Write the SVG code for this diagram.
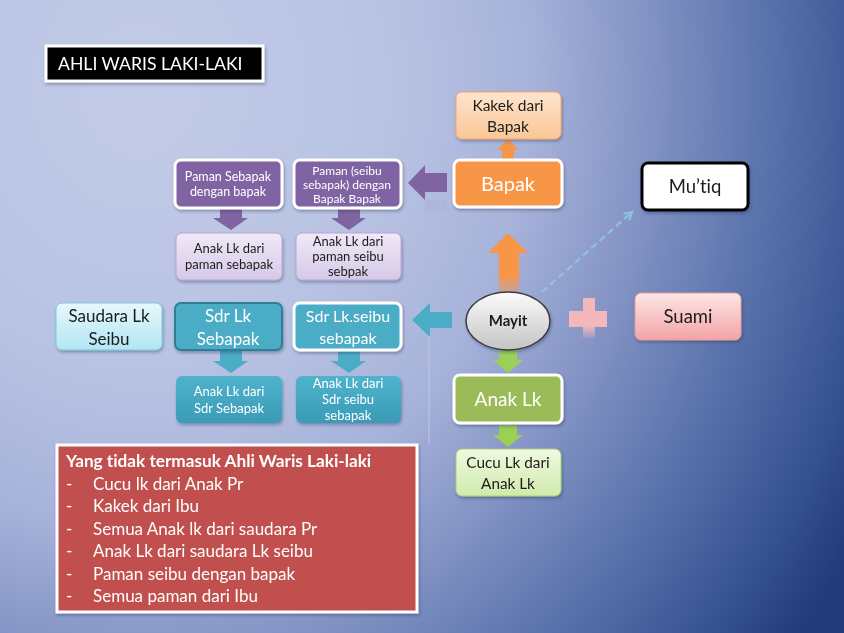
<svg xmlns="http://www.w3.org/2000/svg" width="844" height="633" viewBox="0 0 844 633">
<defs>
<radialGradient id="bg" gradientUnits="userSpaceOnUse" cx="140" cy="90" r="820" gradientTransform="translate(140,90) scale(1,1.12) translate(-140,-90)">
<stop offset="0" stop-color="#c3cbe7"/>
<stop offset="0.3" stop-color="#b8c3e3"/>
<stop offset="0.48" stop-color="#a7b2da"/>
<stop offset="0.62" stop-color="#8393c4"/>
<stop offset="0.78" stop-color="#5670aa"/>
<stop offset="0.92" stop-color="#34508f"/>
<stop offset="1" stop-color="#233b7a"/>
</radialGradient>
<linearGradient id="gPeach" x1="0" y1="0" x2="0" y2="1"><stop offset="0" stop-color="#fde4cf"/><stop offset="1" stop-color="#fbc796"/></linearGradient>
<linearGradient id="gLav" x1="0" y1="0" x2="0" y2="1"><stop offset="0" stop-color="#f0e9f7"/><stop offset="1" stop-color="#d6c9e8"/></linearGradient>
<linearGradient id="gCyan" x1="0" y1="0" x2="0" y2="1"><stop offset="0" stop-color="#e6f8fc"/><stop offset="1" stop-color="#b2e6f3"/></linearGradient>
<linearGradient id="gTeal" x1="0" y1="0" x2="0" y2="1"><stop offset="0" stop-color="#4fb3cc"/><stop offset="1" stop-color="#3a9bb6"/></linearGradient>
<linearGradient id="gGreen" x1="0" y1="0" x2="0" y2="1"><stop offset="0" stop-color="#f0f9e2"/><stop offset="1" stop-color="#d0ebab"/></linearGradient>
<linearGradient id="gPink" x1="0" y1="0" x2="0" y2="1"><stop offset="0" stop-color="#fde6e6"/><stop offset="1" stop-color="#f3a4a6"/></linearGradient>
<linearGradient id="gEll" x1="0" y1="0" x2="0" y2="1"><stop offset="0" stop-color="#fbfbfb"/><stop offset="1" stop-color="#c4c4c4"/></linearGradient>
<linearGradient id="fadeOrange" x1="0" y1="0" x2="0" y2="1"><stop offset="0.7" stop-color="#f79646"/><stop offset="1" stop-color="#f79646" stop-opacity="0.35"/></linearGradient>
<linearGradient id="fadePink" x1="0" y1="0" x2="0" y2="1"><stop offset="0.7" stop-color="#f2b8bc"/><stop offset="1" stop-color="#f2b8bc" stop-opacity="0.2"/></linearGradient>
<filter id="sh" x="-10%" y="-10%" width="125%" height="130%"><feDropShadow dx="1" dy="2" stdDeviation="1.5" flood-color="#1c2850" flood-opacity="0.35"/></filter>
<marker id="ah" viewBox="0 0 10 10" refX="8" refY="5" markerWidth="5" markerHeight="5" orient="auto"><path d="M1,1 L8,5 L1,9" fill="none" stroke="#8cc3e2" stroke-width="2"/></marker>
</defs>
<style>
text{font-family:Lato,"Liberation Sans",sans-serif;text-anchor:middle;font-variant-ligatures:none}
.w{fill:#ffffff}
.d{fill:#1b1b1b}
.box{filter:url(#sh)}
</style>
<rect width="844" height="633" fill="url(#bg)"/>

<g id="title" class="box">
<rect x="46" y="46" width="217" height="35" fill="#000" stroke="#fff" stroke-width="3"/>
<text x="58" y="70" class="w" style="text-anchor:start;font-size:17.6px">AHLI WARIS LAKI-LAKI</text>
</g>

<g id="connectors">
<path d="M508,139 L519,150 L514,150 L514,160 L502,160 L502,150 L497,150 Z" fill="#f79646"/>
<path d="M508,233 L528,253 L519,253 L519,293 L499,293 L499,253 L488,253 Z" fill="url(#fadeOrange)"/>
<path d="M408,183 L425,165 L425,173 L447,173 L447,192 L425,192 L425,200 Z" fill="#8064a2"/>
<path d="M425,200 L447,200 L447,212 L425,212 Z" fill="#8064a2" opacity="0.06"/>
<path d="M220,208 L242,208 L242,218 L248,218 L231,230 L213,218 L220,218 Z" fill="#8064a2"/>
<path d="M338,208 L360,208 L360,218 L366,218 L349,230 L331,218 L338,218 Z" fill="#8064a2"/>
<path d="M412,320 L430,303 L430,312 L452,312 L452,328 L430,328 L430,337 Z" fill="#4bacc6"/>
<line x1="429" y1="336" x2="429" y2="445" stroke="#c6d2ee" stroke-width="1.5" opacity="0.45"/>
<path d="M220,351 L242,351 L242,361 L248,361 L231,373 L213,361 L220,361 Z" fill="#4bacc6"/>
<path d="M338,351 L360,351 L360,361 L366,361 L349,373 L331,361 L338,361 Z" fill="#4bacc6"/>
<path d="M499,350 L517,350 L517,360 L523,360 L508,373 L493,360 L499,360 Z" fill="#9bcf55"/>
<path d="M499,425 L517,425 L517,435 L523,435 L508,447 L493,435 L499,435 Z" fill="#9bcf55"/>
<line x1="542" y1="292" x2="632" y2="212" stroke="#8cc3e2" stroke-width="2.2" stroke-dasharray="7,4" marker-end="url(#ah)"/>
<path d="M583,298 L595,298 L595,311 L607,311 L607,327 L595,327 L595,338 L583,338 L583,327 L569,327 L569,311 L583,311 Z" fill="url(#fadePink)"/>
</g>

<g id="kakek" class="box">
<rect x="456" y="92" width="105" height="47" rx="6" fill="url(#gPeach)" stroke="#f3a768" stroke-width="1"/>
<text x="508" y="111" class="d" style="font-size:15.5px">Kakek dari</text>
<text x="508" y="132" class="d" style="font-size:15.5px">Bapak</text>
</g>

<g id="bapak" class="box">
<rect x="454" y="160" width="108" height="47" rx="6" fill="#f79646" stroke="#fff" stroke-width="3"/>
<text x="508" y="191" class="w" style="font-size:20px">Bapak</text>
</g>

<g id="paman-seibu" class="box">
<rect x="294" y="160" width="107" height="48" rx="6" fill="#8064a2" stroke="#fff" stroke-width="3"/>
<text x="347" y="175" class="w" style="font-size:12px">Paman (seibu</text>
<text x="347" y="189" class="w" style="font-size:12px">sebapak) dengan</text>
<text x="347" y="203" class="w" style="font-size:12px">Bapak Bapak</text>
</g>

<g id="paman-sebapak" class="box">
<rect x="175" y="160" width="107" height="48" rx="6" fill="#8064a2" stroke="#fff" stroke-width="3"/>
<text x="228" y="181" class="w" style="font-size:12.5px">Paman Sebapak</text>
<text x="228" y="196" class="w" style="font-size:12.5px">dengan bapak</text>
</g>

<g id="anak-paman-sebapak" class="box">
<rect x="176" y="233" width="106" height="47" rx="6" fill="url(#gLav)" stroke="#b9a6d2" stroke-width="1"/>
<text x="229" y="253" class="d" style="font-size:13px">Anak Lk dari</text>
<text x="229" y="269" class="d" style="font-size:13px">paman sebapak</text>
</g>

<g id="anak-paman-seibu" class="box">
<rect x="296" y="233" width="105" height="47" rx="6" fill="url(#gLav)" stroke="#b9a6d2" stroke-width="1"/>
<text x="348" y="246" class="d" style="font-size:13px">Anak Lk dari</text>
<text x="348" y="261" class="d" style="font-size:13px">paman seibu</text>
<text x="348" y="276" class="d" style="font-size:13px">sebpak</text>
</g>

<g id="saudara-seibu" class="box">
<rect x="56" y="303" width="106" height="47" rx="6" fill="url(#gCyan)" stroke="#7ec8dc" stroke-width="1"/>
<text x="109" y="322" class="d" style="font-size:17px">Saudara Lk</text>
<text x="109" y="345" class="d" style="font-size:17px">Seibu</text>
</g>

<g id="sdr-sebapak" class="box">
<rect x="175" y="303" width="107" height="47" rx="6" fill="#4bacc6" stroke="#2f7f95" stroke-width="2"/>
<text x="228" y="322" class="w" style="font-size:17px">Sdr Lk</text>
<text x="228" y="345" class="w" style="font-size:17px">Sebapak</text>
</g>

<g id="sdr-seibu-sebapak" class="box">
<rect x="294" y="303" width="107" height="47" rx="6" fill="#4bacc6" stroke="#fff" stroke-width="3"/>
<text x="348" y="322" class="w" style="font-size:16px">Sdr Lk.seibu</text>
<text x="348" y="344" class="w" style="font-size:16px">sebapak</text>
</g>

<g id="anak-sdr-sebapak" class="box">
<rect x="176" y="376" width="106" height="47" rx="6" fill="url(#gTeal)"/>
<text x="229" y="396" class="w" style="font-size:13px">Anak Lk dari</text>
<text x="229" y="413" class="w" style="font-size:13px">Sdr Sebapak</text>
</g>

<g id="anak-sdr-seibu" class="box">
<rect x="296" y="376" width="105" height="47" rx="6" fill="url(#gTeal)"/>
<text x="348" y="388" class="w" style="font-size:13px">Anak Lk dari</text>
<text x="348" y="404" class="w" style="font-size:13px">Sdr seibu</text>
<text x="348" y="420" class="w" style="font-size:13px">sebapak</text>
</g>

<g id="mayit" class="box">
<ellipse cx="508" cy="321" rx="42" ry="29" fill="url(#gEll)" stroke="#3a3a3a" stroke-width="1.5"/>
<text x="508" y="326" class="d" style="font-size:15px;font-weight:bold">Mayit</text>
</g>

<g id="mutiq" class="box">
<rect x="642" y="163" width="106" height="47" rx="6" fill="#fff" stroke="#000" stroke-width="3"/>
<text x="695" y="193" class="d" style="font-size:18.5px">Mu’tiq</text>
</g>

<g id="suami" class="box">
<rect x="635" y="293" width="106" height="47" rx="6" fill="url(#gPink)" stroke="#e69a9c" stroke-width="1"/>
<text x="688" y="323" class="d" style="font-size:18.5px">Suami</text>
</g>

<g id="anak-lk" class="box">
<rect x="454" y="375" width="108" height="48" rx="6" fill="#9bbb59" stroke="#fff" stroke-width="3"/>
<text x="508" y="406" class="w" style="font-size:19px">Anak Lk</text>
</g>

<g id="cucu" class="box">
<rect x="456" y="449" width="105" height="47" rx="6" fill="url(#gGreen)" stroke="#a9cf78" stroke-width="1"/>
<text x="508" y="468" class="d" style="font-size:15.3px">Cucu Lk dari</text>
<text x="508" y="489" class="d" style="font-size:15.3px">Anak Lk</text>
</g>

<g id="tidak-termasuk" class="box">
<rect x="57" y="445" width="360" height="167" fill="#c0504d" stroke="#fff" stroke-width="3"/>
<g style="text-anchor:start;font-size:17px" class="w">
<text x="66" y="467" style="text-anchor:start;font-weight:bold;font-size:17.2px">Yang tidak termasuk Ahli Waris Laki-laki</text>
<text x="66" y="490" style="text-anchor:start">-</text><text x="93" y="490" style="text-anchor:start">Cucu lk dari Anak Pr</text>
<text x="66" y="512" style="text-anchor:start">-</text><text x="93" y="512" style="text-anchor:start">Kakek dari Ibu</text>
<text x="66" y="535" style="text-anchor:start">-</text><text x="93" y="535" style="text-anchor:start">Semua Anak lk dari saudara Pr</text>
<text x="66" y="557" style="text-anchor:start">-</text><text x="93" y="557" style="text-anchor:start">Anak Lk dari saudara Lk seibu</text>
<text x="66" y="580" style="text-anchor:start">-</text><text x="93" y="580" style="text-anchor:start">Paman seibu dengan bapak</text>
<text x="66" y="602" style="text-anchor:start">-</text><text x="93" y="602" style="text-anchor:start">Semua paman dari Ibu</text>
</g>
</g>
</svg>
